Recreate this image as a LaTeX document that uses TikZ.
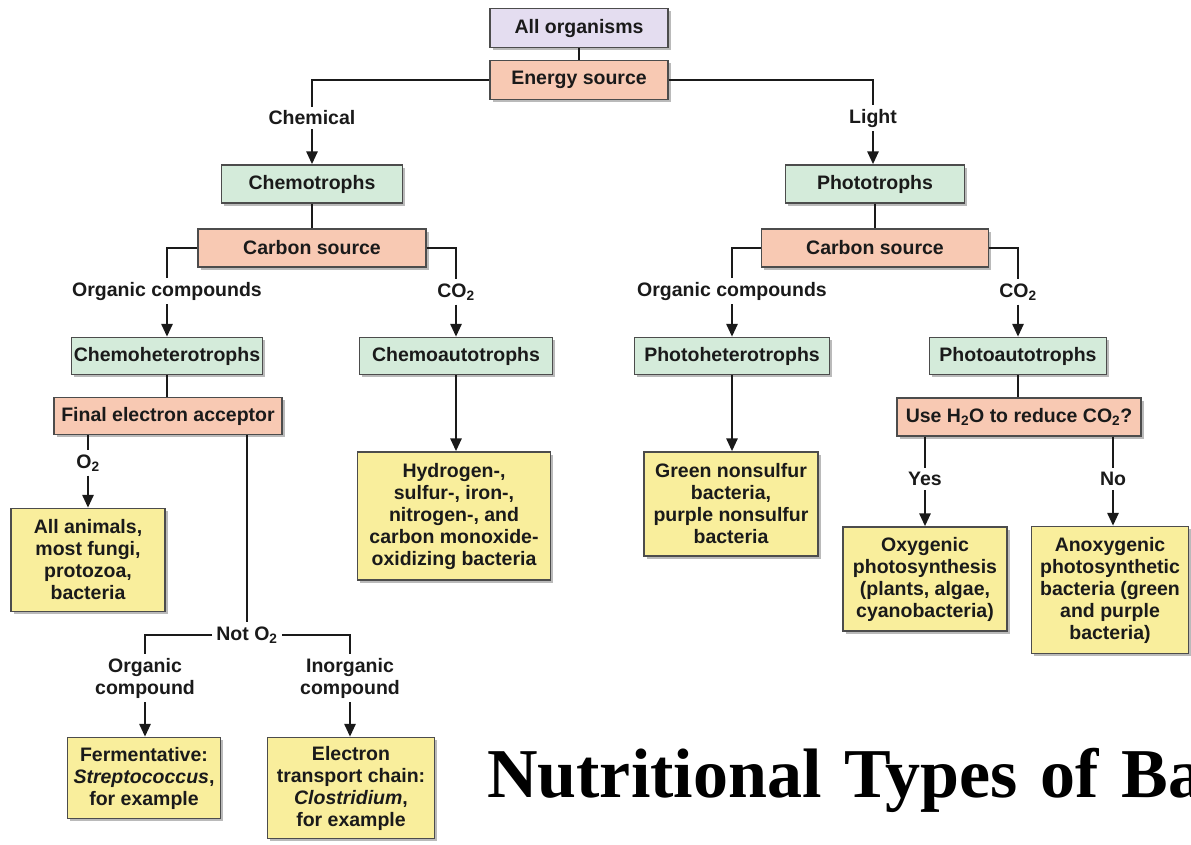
\documentclass[tikz,border=0pt]{standalone}
\usepackage{fontspec}
\setmainfont{Liberation Sans}
\newfontfamily\titlefont[WordSpace=1.3]{Liberation Serif}
\usetikzlibrary{arrows.meta,shadows}
\definecolor{lav}{HTML}{E4DDF0}
\definecolor{sal}{HTML}{F8C9B3}
\definecolor{grn}{HTML}{D4EBDA}
\definecolor{yel}{HTML}{F9EE9C}
\definecolor{ink}{HTML}{1A1A1A}
\tikzset{
  box/.style={draw=black!70, line width=1.4pt, text=ink,
    font=\bfseries\fontsize{19.5}{22}\selectfont, align=center, inner sep=2pt,
    drop shadow={shadow xshift=2.5pt, shadow yshift=-2.5pt, fill=black!45, opacity=0.6}},
  lavbox/.style={box, fill=lav},
  salbox/.style={box, fill=sal},
  grnbox/.style={box, fill=grn},
  yelbox/.style={box, fill=yel},
  lbl/.style={text=ink, font=\bfseries\fontsize{19.5}{22}\selectfont, align=center, inner sep=4pt},
  conn/.style={line width=2.8pt, draw=ink},
  arr/.style={conn, -{Triangle[length=13pt,width=11pt]}},
}
\begin{document}
\begin{tikzpicture}[x=1pt,y=-1pt]
\useasboundingbox (0,0) rectangle (1191,844);
\clip (0,0) rectangle (1191,844);
\fill[white] (0,0) rectangle (1191,844);
% top
\node[lavbox, minimum width=178, minimum height=39] (all) at (579,28) {All organisms};
\node[salbox, minimum width=178, minimum height=39] (energy) at (579,80) {Energy source};
\draw[conn] (all) -- (energy);
\node[lbl] (chemical) at (312,118) {Chemical};
\node[lbl] (light) at (873,118) {Light};
\draw[conn] (energy.west) -| (chemical.north);
\draw[conn] (energy.east) -| (light.north);
% chemotrophs side
\node[grnbox, minimum width=181, minimum height=38] (chemotrophs) at (312,184) {Chemotrophs};
\draw[arr] (chemical.south) -- (chemotrophs.north);
\node[salbox, minimum width=228, minimum height=38] (csL) at (312,248) {Carbon source};
\draw[conn] (chemotrophs) -- (csL);
\node[lbl] (orgL) at (167,291) {Organic compounds};
\node[lbl] (co2L) at (456,292) {CO\textsubscript{2}};
\draw[conn] (csL.west) -| (orgL.north);
\draw[conn] (csL.east) -| (co2L.north);
\node[grnbox, minimum width=191, minimum height=37] (chemohet) at (167,356) {Chemoheterotrophs};
\node[grnbox, minimum width=193, minimum height=37] (chemoaut) at (456,356) {Chemoautotrophs};
\draw[arr] (orgL.south) -- (chemohet.north);
\draw[arr] (co2L.south) -- (chemoaut.north);
\node[salbox, minimum width=228, minimum height=37] (fea) at (168,416) {Final electron acceptor};
\draw[conn] (chemohet.south) -- (chemohet.south |- fea.north);
\node[lbl] (o2) at (88,463) {O\textsubscript{2}};
\draw[conn] (fea.south -| o2) -- (o2.north);
\node[yelbox, minimum width=154, minimum height=103] (animals) at (88,560) {All animals,\\most fungi,\\protozoa,\\bacteria};
\draw[arr] (o2.south) -- (animals.north);
\node[lbl] (noto2) at (247,635) {Not O\textsubscript{2}};
\draw[conn] (fea.south -| noto2) -- (noto2.north);
\node[lbl] (orgc) at (145,678) {Organic\\compound};
\node[lbl] (inorgc) at (350,678) {Inorganic\\compound};
\draw[conn] (noto2.west) -| (orgc.north);
\draw[conn] (noto2.east) -| (inorgc.north);
\node[yelbox, minimum width=153, minimum height=81] (ferm) at (144,778) {Fermentative:\\\textit{Streptococcus},\\for example};
\node[yelbox, minimum width=167, minimum height=101] (etc) at (351,788) {Electron\\transport chain:\\\textit{Clostridium},\\for example};
\draw[arr] (orgc.south) -- (orgc.south |- ferm.north);
\draw[arr] (inorgc.south) -- (inorgc.south |- etc.north);
\node[yelbox, minimum width=193, minimum height=128] (hydro) at (454,516) {Hydrogen-,\\sulfur-, iron-,\\nitrogen-, and\\carbon monoxide-\\oxidizing bacteria};
\draw[arr] (chemoaut.south) -- (chemoaut.south |- hydro.north);
% phototrophs side
\node[grnbox, minimum width=179, minimum height=38] (phototrophs) at (875,184) {Phototrophs};
\draw[arr] (light.south) -- (light.south |- phototrophs.north);
\node[salbox, minimum width=227, minimum height=38] (csR) at (875,248) {Carbon source};
\draw[conn] (phototrophs) -- (csR);
\node[lbl] (orgR) at (732,291) {Organic compounds};
\node[lbl] (co2R) at (1018,292) {CO\textsubscript{2}};
\draw[conn] (csR.west) -| (orgR.north);
\draw[conn] (csR.east) -| (co2R.north);
\node[grnbox, minimum width=195, minimum height=37] (photohet) at (732,356) {Photoheterotrophs};
\node[grnbox, minimum width=177, minimum height=37] (photoaut) at (1018,356) {Photoautotrophs};
\draw[arr] (orgR.south) -- (photohet.north);
\draw[arr] (co2R.south) -- (photoaut.north);
\node[yelbox, minimum width=174, minimum height=104] (green) at (731,504) {Green nonsulfur\\bacteria,\\purple nonsulfur\\bacteria};
\draw[arr] (photohet.south) -- (photohet.south |- green.north);
\node[salbox, minimum width=244, minimum height=38] (useh2o) at (1019,417) {Use H\textsubscript{2}O to reduce CO\textsubscript{2}?};
\draw[conn] (photoaut.south) -- (photoaut.south |- useh2o.north);
\node[lbl] (yes) at (925,479) {Yes};
\node[lbl] (no) at (1113,479) {No};
\draw[conn] (useh2o.south -| yes) -- (yes.north);
\draw[conn] (useh2o.south -| no) -- (no.north);
\node[yelbox, minimum width=164, minimum height=104] (oxy) at (925,579) {Oxygenic\\photosynthesis\\(plants, algae,\\cyanobacteria)};
\node[yelbox, minimum width=157, minimum height=127] (anoxy) at (1110,590) {Anoxygenic\\photosynthetic\\bacteria (green\\and purple\\bacteria)};
\draw[arr] (yes.south) -- (yes.south |- oxy.north);
\draw[arr] (no.south) -- (no.south |- anoxy.north);
% title
\node[anchor=base west, inner sep=0, font=\titlefont\bfseries\fontsize{70}{70}\selectfont] (title) at (487,797) {Nutritional Types of Bacteria};
\end{tikzpicture}
\end{document}
